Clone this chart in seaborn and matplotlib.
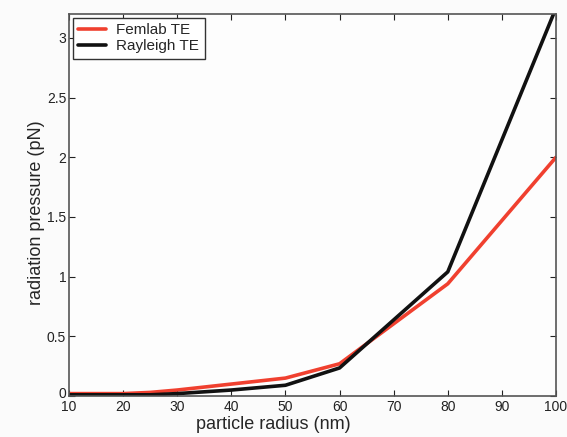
import numpy as np
import pandas as pd
import matplotlib
matplotlib.use("Agg")
import matplotlib.pyplot as plt
import matplotlib.transforms as mtransforms
import seaborn as sns

# datos
radius = [10, 20, 25, 30, 40, 50, 60, 80, 100]
femlab_te = [0.02, 0.02, 0.03, 0.05, 0.10, 0.15, 0.27, 0.94, 2.00]
rayleigh_te = [0.01, 0.01, 0.01, 0.02, 0.05, 0.09, 0.235, 1.04, 3.25]
series_names = ["Femlab TE", "Rayleigh TE"]
x_ticks = [10, 20, 30, 40, 50, 60, 70, 80, 90, 100]
y_ticks = [0, 0.5, 1, 1.5, 2, 2.5, 3]
y_labels = ["0", "0.5", "1", "1.5", "2", "2.5", "3"]

df = pd.DataFrame({
    "radius": radius * 2,
    "pressure": femlab_te + rayleigh_te,
    "serie": [series_names[0]] * len(radius) + [series_names[1]] * len(radius),
})

sns.set_style("ticks")
plt.rcParams["font.family"] = ["Liberation Sans", "DejaVu Sans"]
plt.rcParams["xtick.direction"] = "in"
plt.rcParams["ytick.direction"] = "in"

fig = plt.figure(figsize=(5.67, 4.37), dpi=100, facecolor="#fbfbfb")
ax = fig.add_axes([69 / 567, 41 / 437, 487 / 567, 382 / 437])
ax.set_facecolor("#fdfdfd")

sns.lineplot(data=df, x="radius", y="pressure", hue="serie",
             palette={series_names[0]: "#f0402f", series_names[1]: "#111111"},
             linewidth=2.6, ax=ax)

ax.set_xlim(10, 100)
ax.set_ylim(0, 3.2)
ax.set_xticks(x_ticks)
ax.set_yticks(y_ticks)
ax.set_yticklabels(y_labels)
ax.tick_params(top=True, right=True, labelsize=10, length=4, width=0.8, pad=2,
               colors="#222222")
ax.tick_params(axis="x", pad=3)
for s in ax.spines.values():
    s.set_color("#555555")
    s.set_linewidth(1.2)

# el "0" del eje y queda un poco mas arriba, como en el original
lbl0 = ax.get_yticklabels()[0]
lbl0.set_transform(lbl0.get_transform() + mtransforms.ScaledTranslation(0, 3 / 100, fig.dpi_scale_trans))

# las etiquetas no estan centradas en el original
ax.set_xlabel("particle radius (nm)", fontsize=13)
ax.xaxis.set_label_coords(0.42, -0.052, transform=ax.transAxes)
ax.xaxis.label.set_va("top")
ax.set_ylabel("radiation pressure (pN)", fontsize=13)
ax.yaxis.set_label_coords(-0.05, 0.48, transform=ax.transAxes)

leg = ax.legend(loc="upper left", fontsize=11, frameon=True, fancybox=False,
                borderaxespad=0.25, handlelength=1.8, borderpad=0.35,
                labelspacing=0.15, handletextpad=0.7, title=None)
leg.get_frame().set_edgecolor("#333333")
leg.get_frame().set_linewidth(1.0)
leg.get_frame().set_alpha(1)

fig.savefig("out.png", dpi=100, facecolor=fig.get_facecolor())
